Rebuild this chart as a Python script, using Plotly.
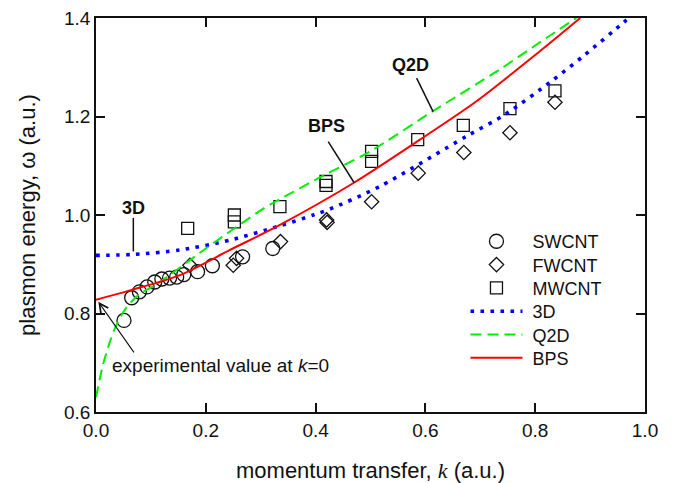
import plotly.graph_objects as go

# ---- data ----
sw_k = [0.051, 0.065, 0.079, 0.093, 0.107, 0.120, 0.134, 0.147, 0.160, 0.185, 0.212, 0.267, 0.322]
sw_w = [0.786, 0.832, 0.844, 0.854, 0.864, 0.870, 0.872, 0.874, 0.879, 0.885, 0.897, 0.915, 0.932]

fw_k = [0.171, 0.250, 0.256, 0.336, 0.420, 0.421, 0.502, 0.587, 0.670, 0.754, 0.836]
fw_w = [0.898, 0.898, 0.912, 0.946, 0.990, 0.985, 1.027, 1.085, 1.127, 1.167, 1.229]

mw_k = [0.167, 0.252, 0.252, 0.335, 0.419, 0.419, 0.502, 0.502, 0.586, 0.669, 0.754, 0.836]
mw_w = [0.973, 1.000, 0.986, 1.017, 1.068, 1.060, 1.129, 1.109, 1.153, 1.182, 1.216, 1.252]

d3_k = [0.0, 0.07, 0.153, 0.244, 0.335, 0.396, 0.426, 0.517, 0.675, 0.745, 0.830, 0.888, 0.961, 0.97]
d3_w = [0.918, 0.920, 0.929, 0.949, 0.978, 1.000, 1.012, 1.058, 1.160, 1.204, 1.272, 1.323, 1.391, 1.40]

q2_k = [0.0, 0.013, 0.026, 0.038, 0.056, 0.080, 0.110, 0.200, 0.305, 0.335, 0.414, 0.499, 0.614, 0.736, 0.809, 0.875]
q2_w = [0.630, 0.697, 0.745, 0.779, 0.813, 0.840, 0.859, 0.932, 1.013, 1.032, 1.080, 1.129, 1.211, 1.296, 1.351, 1.400]

bps_k = [0.0, 0.062, 0.153, 0.244, 0.335, 0.469, 0.590, 0.693, 0.809, 0.882]
bps_w = [0.828, 0.847, 0.878, 0.929, 0.980, 1.065, 1.153, 1.231, 1.333, 1.400]

x_ticks = [0.0, 0.2, 0.4, 0.6, 0.8, 1.0]
y_ticks = [0.6, 0.8, 1.0, 1.2, 1.4]

FONT = "Liberation Sans, Arial, sans-serif"
BLACK = "#111111"

fig = go.Figure()
mk = dict(size=14, color=BLACK, line=dict(width=1.3, color=BLACK))
fig.add_trace(go.Scatter(x=sw_k, y=sw_w, mode="markers", name=" SWCNT", legend="legend",
                         marker=dict(mk, symbol="circle-open")))
fig.add_trace(go.Scatter(x=fw_k, y=fw_w, mode="markers", name=" FWCNT", legend="legend2",
                         marker=dict(mk, symbol="diamond-open", size=11)))
fig.add_trace(go.Scatter(x=mw_k, y=mw_w, mode="markers", name=" MWCNT", legend="legend3",
                         marker=dict(mk, symbol="square-open", size=12)))
fig.add_trace(go.Scatter(x=d3_k, y=d3_w, mode="lines", name=" 3D", legend="legend4",
                         line=dict(color="#0000ff", width=3.6, dash="3.6px,6.4px", shape="spline", smoothing=0.8)))
fig.add_trace(go.Scatter(x=q2_k, y=q2_w, mode="lines", name=" Q2D", legend="legend5",
                         line=dict(color="#00ee00", width=2, dash="11px,6px", shape="spline", smoothing=0.8)))
fig.add_trace(go.Scatter(x=bps_k, y=bps_w, mode="lines", name=" BPS", legend="legend6",
                         line=dict(color="#ff0000", width=2, shape="spline", smoothing=0.8)))

axis_common = dict(showgrid=False, zeroline=False, showline=True, linecolor=BLACK, linewidth=1.5,
                   ticks="inside", ticklen=9, tickwidth=1.5, tickcolor=BLACK, mirror="ticks",
                   tickfont=dict(size=19, color=BLACK, family=FONT), tickformat=".1f",
                   automargin=False)

fig.update_xaxes(range=[0, 1], tickvals=x_ticks, **axis_common,
                 title=dict(text="momentum transfer, <span style='font-family:Liberation Serif'><i>k</i></span> (a.u.)",
                            font=dict(size=22, color=BLACK, family=FONT), standoff=27))
fig.update_yaxes(range=[0.6, 1.4], tickvals=y_ticks, **axis_common,
                 title=dict(text="plasmon energy, ω (a.u.)",
                            font=dict(size=22, color=BLACK, family=FONT), standoff=22))

# labels and pointer lines
lab_font = dict(size=18, color=BLACK, family=FONT)
for txt, x, y in [("3D", 0.069, 1.014), ("BPS", 0.42, 1.18), ("Q2D", 0.572, 1.305)]:
    fig.add_annotation(x=x, y=y, text="<b>%s</b>" % txt, showarrow=False, font=lab_font)
for x0, y0, x1, y1 in [(0.068, 0.994, 0.068, 0.926), (0.423, 1.149, 0.47, 1.066), (0.584, 1.278, 0.614, 1.21)]:
    fig.add_shape(type="line", x0=x0, y0=y0, x1=x1, y1=y1, line=dict(color=BLACK, width=1.5))

fig.add_annotation(x=0.0255, y=0.695, xanchor="left", text="experimental value at <i>k</i>=0",
                   showarrow=False, font=dict(size=19, color=BLACK, family=FONT))
fig.add_annotation(x=0.0042, y=0.824, ax=0.071, ay=0.718, axref="x", ayref="y", xref="x", yref="y",
                   text="", showarrow=True, arrowhead=5, arrowsize=1.6, arrowwidth=1.1, arrowcolor=BLACK)

# one legend per entry so the row spacing matches the reference
leg_y_px = [241.7, 265.0, 288.3, 311.6, 334.9, 358.2]
plot_top, plot_bot = 18.3, 412.0
legends = {}
for i, py in enumerate(leg_y_px):
    key = "legend" if i == 0 else "legend%d" % (i + 1)
    legends[key] = dict(x=0.673, y=(plot_bot - py) / (plot_bot - plot_top), xanchor="left", yanchor="middle",
                        bgcolor="rgba(0,0,0,0)", font=dict(size=18, color=BLACK, family=FONT),
                        itemwidth=52)

fig.update_layout(
    width=673, height=483,
    margin=dict(l=96, r=28, t=18, b=71, autoexpand=False),
    paper_bgcolor="white", plot_bgcolor="white",
    font=dict(family=FONT, color=BLACK),
    showlegend=True,
    **legends,
)

fig.write_html("out.html")
